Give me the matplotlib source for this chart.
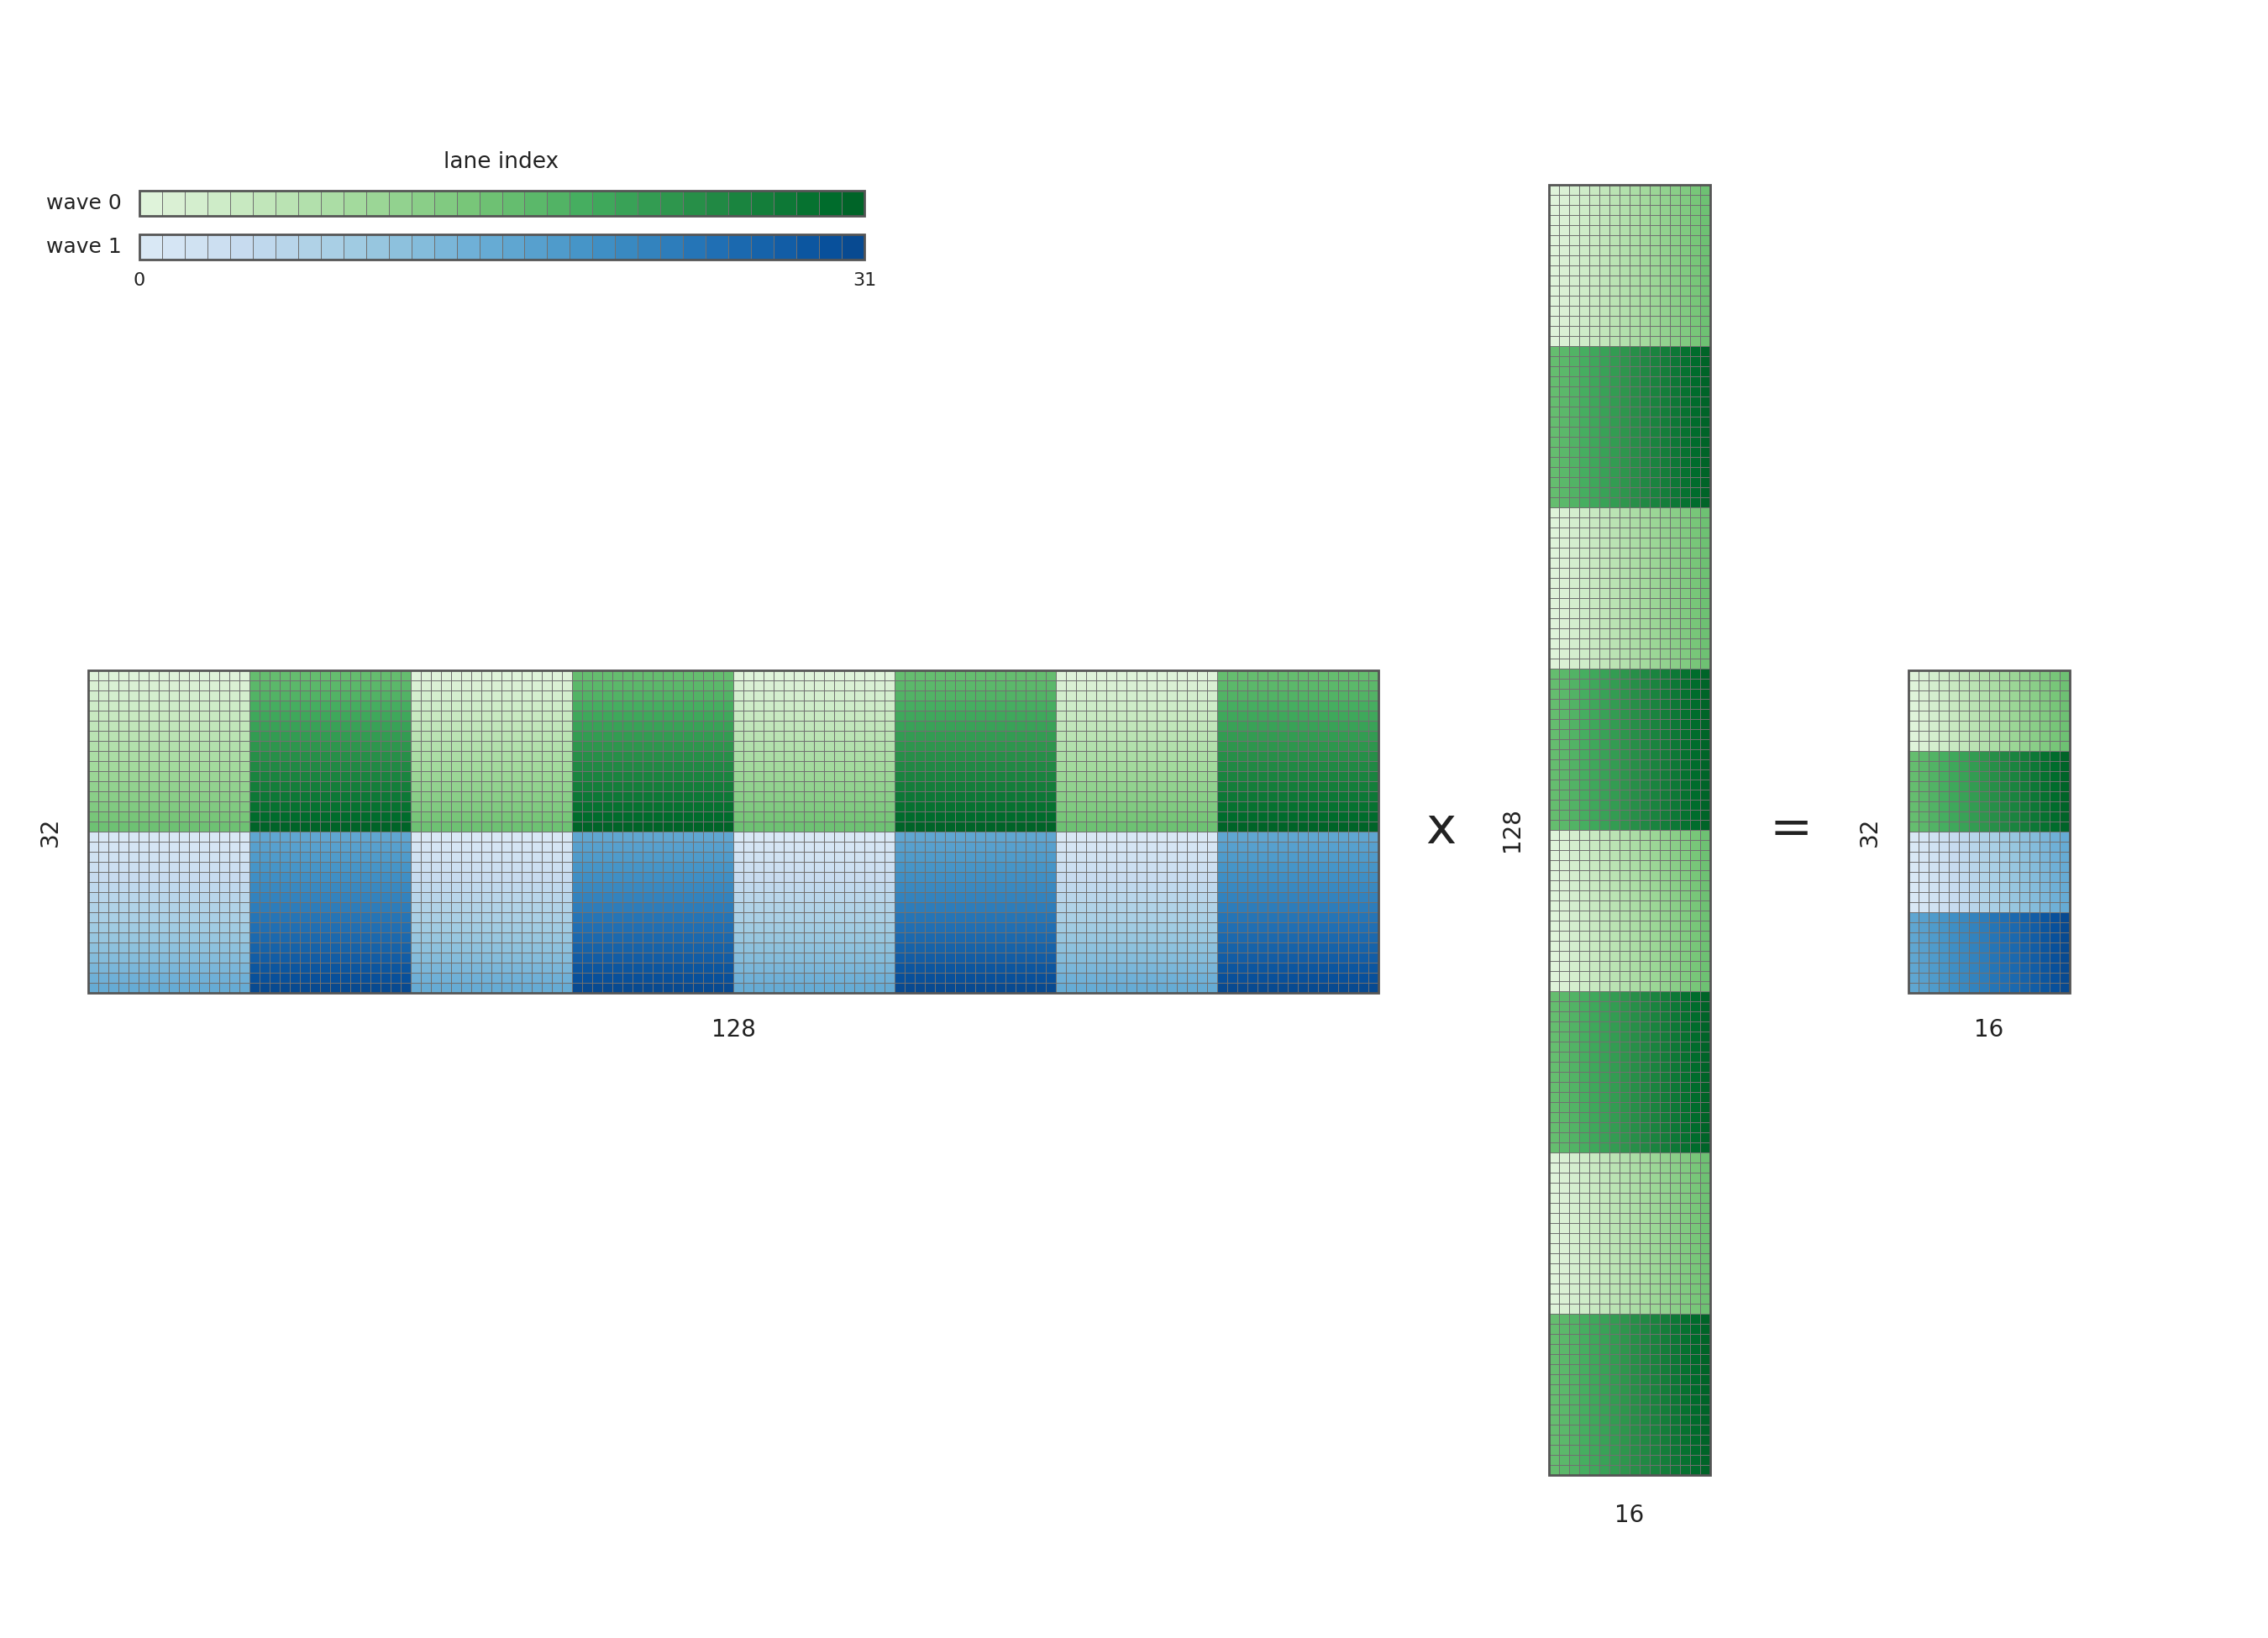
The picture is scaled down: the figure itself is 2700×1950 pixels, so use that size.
import matplotlib
matplotlib.use('Agg')
import matplotlib.pyplot as plt
import numpy as np
from matplotlib.colors import ListedColormap

# lane index (0..31) and wave (0/1) for each element
lanes = np.arange(32)
a_block_offsets = [0, 16, 0, 16, 0, 16, 0, 16]   # A: 8 column blocks of 16
b_block_offsets = [0, 16, 0, 16, 0, 16, 0, 16]   # B: 8 row blocks of 16
c_row_offsets = [0, 16, 0, 16]                   # C: 4 row blocks of 8
c_row_waves = [0, 0, 1, 1]

greens = ListedColormap(plt.get_cmap('Greens')(np.linspace(0.15, 0.9, 32)))
blues = ListedColormap(plt.get_cmap('Blues')(np.linspace(0.15, 0.9, 32)))
cmaps = [greens, blues]

# A: 32 x 128
A_lane = np.zeros((32, 128), int); A_wave = np.zeros((32, 128), int)
for r in range(32):
    for c in range(128):
        A_lane[r, c] = r % 16 + a_block_offsets[c // 16]
        A_wave[r, c] = r // 16
# B: 128 x 16
B_lane = np.zeros((128, 16), int); B_wave = np.zeros((128, 16), int)
for r in range(128):
    for c in range(16):
        B_lane[r, c] = c + b_block_offsets[r // 16]
# C: 32 x 16
C_lane = np.zeros((32, 16), int); C_wave = np.zeros((32, 16), int)
for r in range(32):
    for c in range(16):
        C_lane[r, c] = c + c_row_offsets[r // 8]
        C_wave[r, c] = c_row_waves[r // 8]

fig = plt.figure(figsize=(27, 19.5), dpi=100)
ax = fig.add_axes([0, 0, 1, 1])
ax.set_xlim(0, 2700)
ax.set_ylim(1950, 0)
ax.axis('off')

GRID = '#707070'
BORDER = '#555555'
TXT = '#222222'


def draw_matrix(x0, y0, cell, lane, wave):
    rows, cols = lane.shape
    xs = x0 + np.arange(cols + 1) * cell
    ys = y0 + np.arange(rows + 1) * cell
    for w in (0, 1):
        data = np.ma.masked_where(wave != w, lane)
        if data.count() == 0:
            continue
        ax.pcolormesh(xs, ys, data, cmap=cmaps[w], vmin=-0.5, vmax=31.5,
                      edgecolors=GRID, linewidth=0.5)
    ax.add_patch(plt.Rectangle((x0, y0), cols * cell, rows * cell, fill=False,
                               ec=BORDER, lw=2.0, zorder=5))


cell = 12.0
ay, bx, by, cx = 798, 1844, 220, 2272
draw_matrix(105, ay, cell, A_lane, A_wave)
draw_matrix(bx, by, cell, B_lane, B_wave)
draw_matrix(cx, ay, cell, C_lane, C_wave)

# dimension labels
ax.text(105 + 64 * cell, 1226, '128', fontsize=20, ha='center', va='center', color=TXT)
ax.text(60, ay + 16 * cell, '32', fontsize=20, ha='center', va='center', rotation=90, color=TXT)
ax.text(1715, 988, 'x', fontsize=44, ha='center', va='center', color=TXT)
ax.text(1800, by + 64 * cell, '128', fontsize=20, ha='center', va='center', rotation=90, color=TXT)
ax.text(bx + 8 * cell, 1804, '16', fontsize=20, ha='center', va='center', color=TXT)
ax.text(2132, 987, '=', fontsize=44, ha='center', va='center', color=TXT)
ax.text(2226, ay + 16 * cell, '32', fontsize=20, ha='center', va='center', rotation=90, color=TXT)
ax.text(cx + 8 * cell, 1226, '16', fontsize=20, ha='center', va='center', color=TXT)

# legend bars
lx0, lx1 = 166, 1029
lw_cell = (lx1 - lx0) / 32
for w, (y0, label) in enumerate([(227, 'wave 0'), (279, 'wave 1')]):
    xs = lx0 + np.arange(33) * lw_cell
    ys = [y0, y0 + 30]
    ax.pcolormesh(xs, ys, lanes[None, :], cmap=cmaps[w], vmin=-0.5, vmax=31.5,
                  edgecolors=GRID, linewidth=0.5)
    ax.add_patch(plt.Rectangle((lx0, y0), lx1 - lx0, 30, fill=False, ec=BORDER, lw=2.0, zorder=5))
    ax.text(145, y0 + 15, label, fontsize=18, ha='right', va='center', color=TXT)
ax.text(597, 193, 'lane index', fontsize=19, ha='center', va='center', color=TXT)
ax.text(lx0, 334, '0', fontsize=16, ha='center', va='center', color=TXT)
ax.text(lx1, 334, '31', fontsize=16, ha='center', va='center', color=TXT)

fig.savefig('out.png', dpi=100, facecolor='white')
plt.close(fig)
